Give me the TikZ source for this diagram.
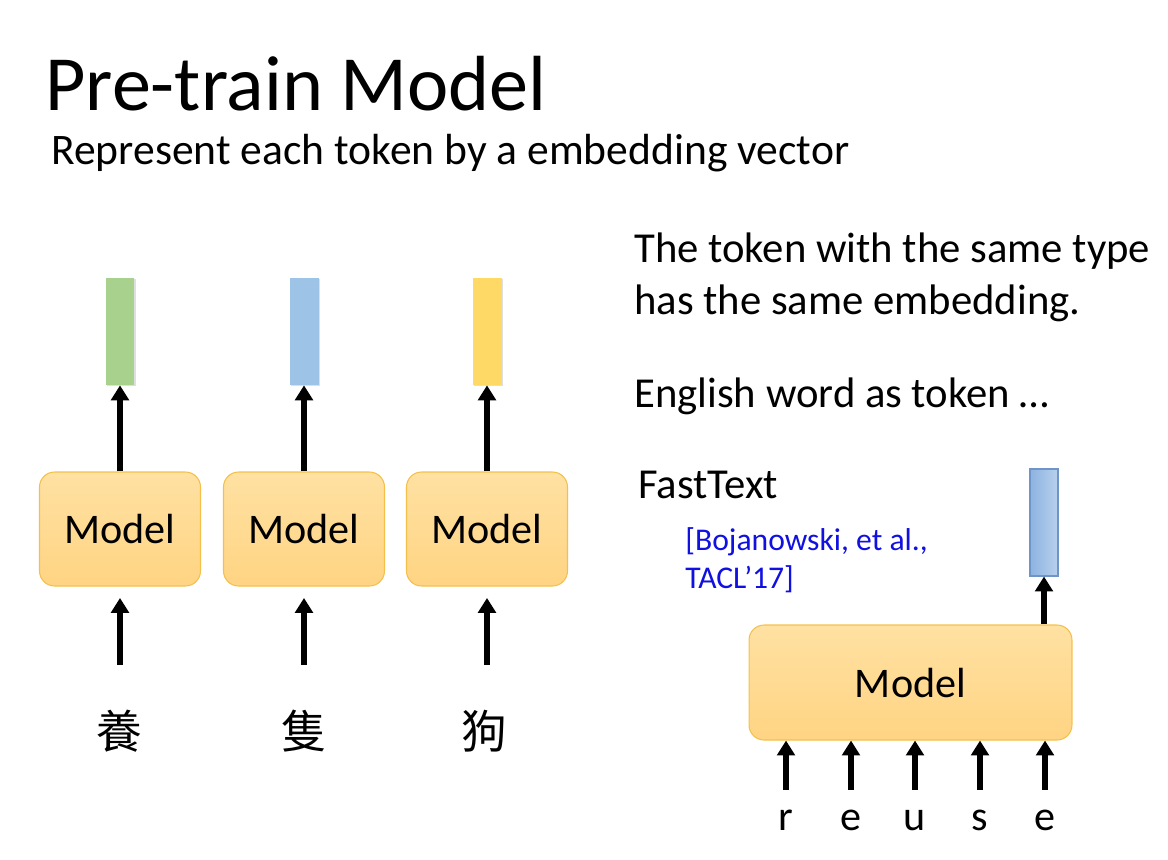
\documentclass[tikz,border=0pt]{standalone}
\usepackage{fontspec}
\setmainfont{Carlito}
\newfontfamily\cjkfont{Noto Sans CJK TC}
\usepackage{xcolor}
\usetikzlibrary{arrows.meta, positioning, shadows}
\definecolor{boxtop}{HTML}{FFE1A2}
\definecolor{boxbot}{HTML}{FFD483}
\definecolor{boxline}{HTML}{F4C04C}
\definecolor{vecgreen}{HTML}{A9D18E}
\definecolor{vecblue}{HTML}{9DC3E6}
\definecolor{vecyellow}{HTML}{FFD966}
\definecolor{vecleft}{HTML}{8DB3E2}
\definecolor{vecright}{HTML}{B8D0EC}
\definecolor{vecline}{HTML}{6F94C8}
\definecolor{citeblue}{HTML}{1010E0}

\begin{document}
\begin{tikzpicture}[
  x=0.02cm, y=-0.02cm,
  every node/.style={inner sep=0pt},
  modelbox/.style={draw=boxline, line width=0.6pt, rounded corners=0.3cm, top color=boxtop, bottom color=boxbot, minimum width=3.22cm, minimum height=2.28cm, font=\fontsize{24}{28}\selectfont},
  vecbar/.style={minimum width=0.58cm, minimum height=2.14cm, drop shadow={opacity=0.25, shadow xshift=0.6pt, shadow yshift=-0.8pt}},
  textline/.style={anchor=base west, font=\fontsize{24.3}{28}\selectfont},
  citeline/.style={anchor=base west, text=citeblue, font=\fontsize{18}{22}\selectfont},
  chartok/.style={font=\fontsize{24}{28}\selectfont, anchor=base},
  hanzi/.style={font=\cjkfont\fontsize{26}{30}\selectfont},
  arr/.style={line width=3.1pt, -{Triangle[width=10pt, length=8.5pt]}}
]
\useasboundingbox (0,0) rectangle (1168,859);

% Title
\node[anchor=base west, font=\fontsize{44.5}{50}\selectfont] (title) at (45,110) {Pre-train Model};
\node[textline, font=\fontsize{24.8}{28}\selectfont] (sub) at (51,164) {Represent each token by a embedding vector};

% Left: one model per character
\node[modelbox] (m1) at (120,529) {Model};
\node[modelbox] (m2) at (304,529) {Model};
\node[modelbox] (m3) at (487,529) {Model};
\node[vecbar, fill=vecgreen] (v1) at (120,331.5) {};
\node[vecbar, fill=vecblue] (v2) at (304,331.5) {};
\node[vecbar, fill=vecyellow] (v3) at (487,331.5) {};
\draw[arr] (m1.north) -- (v1.south);
\draw[arr] (m2.north) -- (v2.south);
\draw[arr] (m3.north) -- (v3.south);
\node[hanzi] (c1) at (119,731) {養};
\node[hanzi] (c2) at (304,731) {隻};
\node[hanzi] (c3) at (484,731) {狗};
\coordinate (in1) at (120,665);
\coordinate (in2) at (304,665);
\coordinate (in3) at (487,665);
\draw[arr, shorten >=6.5pt] (in1) -- (m1.south);
\draw[arr, shorten >=6.5pt] (in2) -- (m2.south);
\draw[arr, shorten >=6.5pt] (in3) -- (m3.south);

% Right: text
\node[textline] (t1) at (634,262) {The token with the same type};
\node[textline] (t2) at (634,314) {has the same embedding.};
\node[textline] (t3) at (634,407) {English word as token …};
\node[textline] (ft) at (638,498) {FastText};
\node[citeline] (cite1) at (685,550) {[Bojanowski, et al.,};
\node[citeline] (cite2) at (685,588) {TACL’17]};

% Right: FastText model over characters
\node[modelbox, minimum width=6.46cm, minimum height=2.3cm] (big) at (910.5,682.5) {Model};
\node[draw=vecline, line width=0.6pt, left color=vecleft, right color=vecright, minimum width=0.56cm, minimum height=2.14cm] (vr) at (1044,522.5) {};
\draw[arr] (vr.south |- big.north) -- (vr.south);
\node[chartok] (r1) at (786,830) {r};
\node[chartok] (r2) at (851,830) {e};
\node[chartok] (r3) at (915,830) {u};
\node[chartok] (r4) at (980,830) {s};
\node[chartok] (r5) at (1045,830) {e};
\coordinate (p1) at (786,790);
\coordinate (p2) at (851,790);
\coordinate (p3) at (915,790);
\coordinate (p4) at (980,790);
\coordinate (p5) at (1045,790);
\draw[arr] (p1) -- (p1 |- big.south);
\draw[arr] (p2) -- (p2 |- big.south);
\draw[arr] (p3) -- (p3 |- big.south);
\draw[arr] (p4) -- (p4 |- big.south);
\draw[arr] (p5) -- (p5 |- big.south);

\end{tikzpicture}
\end{document}
